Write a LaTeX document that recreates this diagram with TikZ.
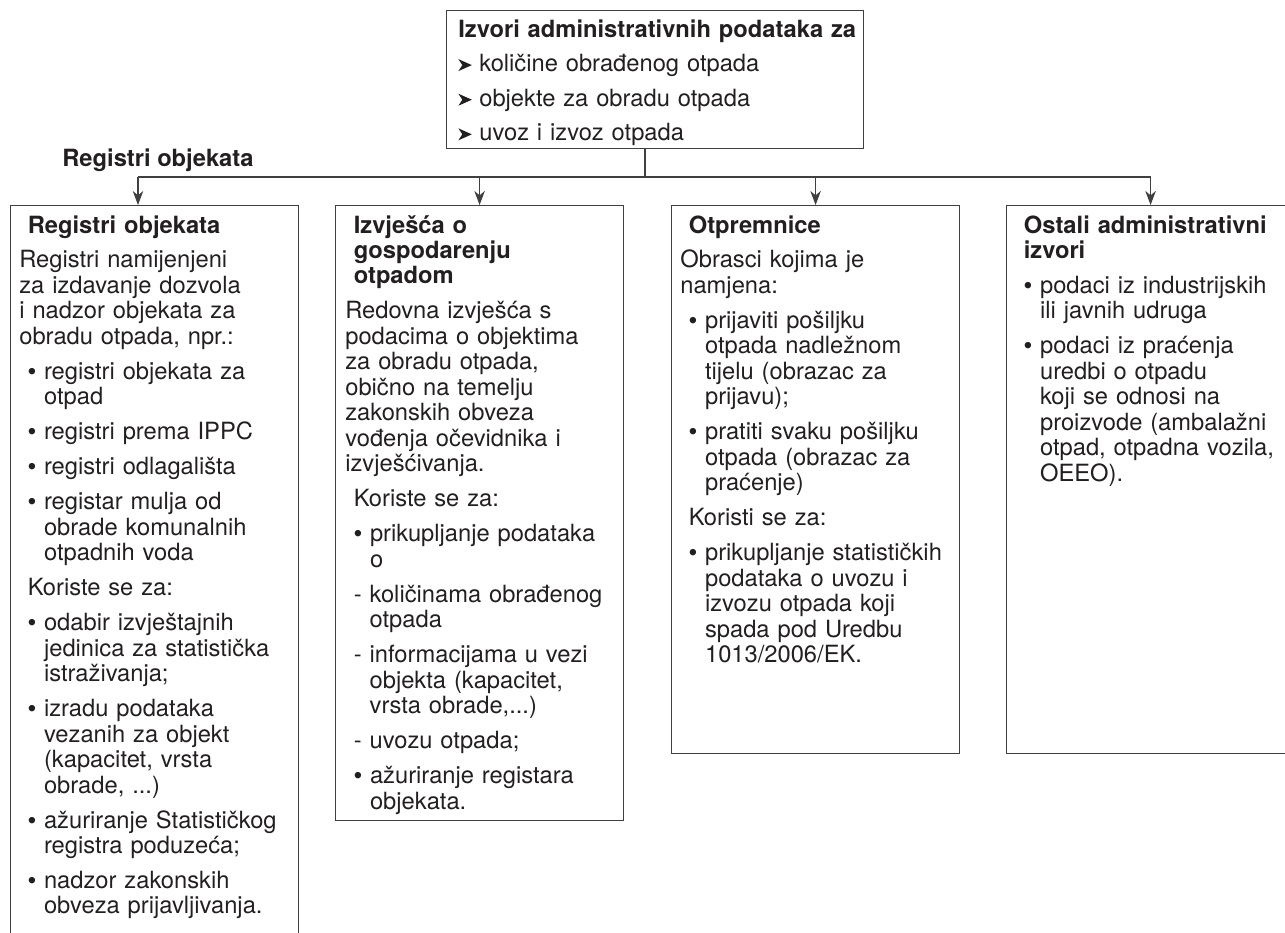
\documentclass[tikz,border=0pt]{standalone}
\usepackage{fontspec}
\setmainfont{TeX Gyre Heros}
\newfontfamily\bulfont{Liberation Sans}
\usetikzlibrary{arrows.meta}
\definecolor{otp-line}{RGB}{64,64,64}
\definecolor{otp-text}{RGB}{35,31,32}

\newlength{\indskip}\setlength{\indskip}{0.17cm}
\newlength{\gapskip}\setlength{\gapskip}{0.19cm}
\newcommand{\itemgap}{\par\vspace{\gapskip}}
\newcommand{\hdind}{\noindent\hangindent=\indskip\hangafter=0 }
\newcommand{\bul}{\noindent\setbox0=\hbox{{\bulfont •}\ }\hangindent=\dimexpr\indskip+\wd0\relax\hangafter=1 \hspace*{\indskip}\unhcopy0 }
\newcommand{\dsh}{\noindent\setbox0=\hbox{-\ }\hangindent=\dimexpr\indskip+\wd0\relax\hangafter=1 \hspace*{\indskip}\unhcopy0 }
\newcommand{\strl}{\makebox[0.42cm][l]{\tikz[x=1cm, y=1cm, baseline=0pt]
    \fill[otp-text] (0,0.01) -- (0.27,0.13) -- (0,0.25) -- (0.08,0.13) -- cycle;}}

\begin{document}
\begin{tikzpicture}[x=0.02cm, y=-0.02cm,
    panel/.style={draw=otp-line, line width=0.7pt, anchor=north west, inner sep=0pt, minimum width=5.76cm},
    panel text/.style={anchor=base west, inner sep=0pt, text width=5.6cm, align=left, text=otp-text, font=\fontsize{13.5}{14.5}\selectfont},
    link/.style={draw=otp-line, line width=0.7pt},
    feed/.style={link, -{Stealth[length=8pt,width=6pt,inset=2.5pt]}}]
    \useasboundingbox (0,0) rectangle (1285,933);
    \clip (0,0) rectangle (1285,933);

    % top box
    \node[panel, minimum width=8.34cm, minimum height=2.76cm] (src) at (446,10) {};
    \node[panel text, text width=8cm, font=\fontsize{13.5}{19.7}\selectfont] (srctxt) at (458,37)
        {\textbf{Izvori administrativnih podataka za}\\ \strl količine obrađenog otpada\\ \strl objekte za obradu otpada\\ \strl uvoz i izvoz otpada};
    \node[anchor=base west, inner sep=0pt, text=otp-text, font=\fontsize{13.5}{14.5}\selectfont\bfseries] (buslbl) at (62,166) {Registri objekata};

    % the four sources
    \node[panel, minimum height=14.9cm] (reg) at (10,205) {};
    \node[panel, minimum height=12.3cm] (izv) at (335,205) {};
    \node[panel, minimum height=10.96cm] (otp) at (671,205) {};
    \node[panel, minimum height=10.96cm] (ost) at (1006,205) {};

    \coordinate (bus) at (645,177);
    \coordinate (regin) at (138,205);
    \draw[link] (src.south -| bus) -- (bus);
    \draw[link] (bus -| regin) -- (bus -| ost.north);
    \draw[feed] (bus -| regin) -- (regin);
    \draw[feed] (bus -| izv.north) -- (izv.north);
    \draw[feed] (bus -| otp.north) -- (otp.north);
    \draw[feed] (bus -| ost.north) -- (ost.north);

    \node[panel text] (regtxt) at (19,233) {\hdind\textbf{Registri objekata}\itemgap
        \noindent Registri namijenjeni\newline za izdavanje dozvola\newline i nadzor objekata za\newline obradu otpada, npr.:\itemgap
        \bul registri objekata za\newline otpad\itemgap
        \bul registri prema IPPC\itemgap
        \bul registri odlagališta\itemgap
        \bul registar mulja od\newline obrade komunalnih\newline otpadnih voda\itemgap
        \hdind Koriste se za:\itemgap
        \bul odabir izvještajnih\newline jedinica za statistička\newline istraživanja;\itemgap
        \bul izradu podataka\newline vezanih za objekt\newline (kapacitet, vrsta\newline obrade, ...)\itemgap
        \bul ažuriranje Statističkog\newline registra poduzeća;\itemgap
        \bul nadzor zakonskih\newline obveza prijavljivanja.\par};

    \node[panel text] (izvtxt) at (345,233) {\hdind\textbf{Izvješća o\newline gospodarenju\newline otpadom}\itemgap
        \noindent Redovna izvješća s\newline podacima o objektima\newline za obradu otpada,\newline obično na temelju\newline zakonskih obveza\newline vođenja očevidnika i\newline izvješćivanja.\itemgap
        \hdind Koriste se za:\itemgap
        \bul prikupljanje podataka\newline o\itemgap
        \dsh količinama obrađenog\newline otpada\itemgap
        \dsh informacijama u vezi\newline objekta (kapacitet,\newline vrsta obrade,...)\itemgap
        \dsh uvozu otpada;\itemgap
        \bul ažuriranje registara\newline objekata.\par};

    \node[panel text] (otptxt) at (680,233) {\hdind\textbf{Otpremnice}\itemgap
        \noindent Obrasci kojima je\newline namjena:\itemgap
        \bul prijaviti pošiljku\newline otpada nadležnom\newline tijelu (obrazac za\newline prijavu);\itemgap
        \bul pratiti svaku pošiljku\newline otpada (obrazac za\newline praćenje)\itemgap
        \hdind Koristi se za:\itemgap
        \bul prikupljanje statističkih\newline podataka o uvozu i\newline izvozu otpada koji\newline spada pod Uredbu\newline 1013/2006/EK.\par};

    \node[panel text] (osttxt) at (1015,233) {\hdind\textbf{Ostali administrativni\newline izvori}\itemgap
        \bul podaci iz industrijskih\newline ili javnih udruga\itemgap
        \bul podaci iz praćenja\newline uredbi o otpadu\newline koji se odnosi na\newline proizvode (ambalažni\newline otpad, otpadna vozila,\newline OEEO).\par};
\end{tikzpicture}
\end{document}
